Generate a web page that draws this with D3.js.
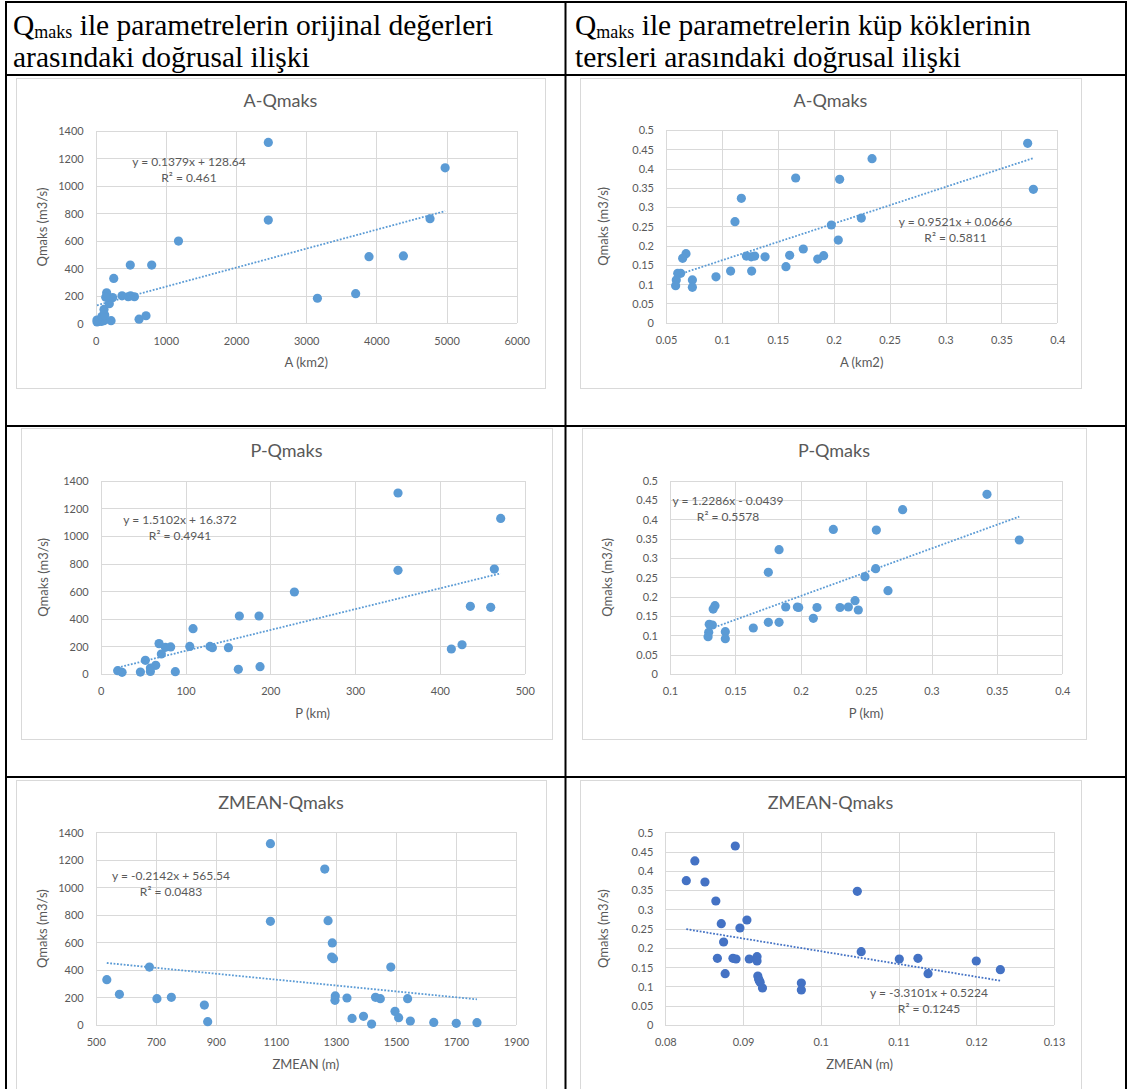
<!DOCTYPE html>
<html>
<head>
<meta charset="utf-8">
<script src="https://cdn.jsdelivr.net/npm/d3@7"></script>
<style>
  html, body { margin: 0; padding: 0; background: #fff; }
  svg { display: block; }
</style>
</head>
<body>
<svg id="page" width="1129" height="1089"></svg>
<script>
// ---------- data ----------
// Original values: catchment area A (km2) vs peak discharge Qmaks (m3/s)
const areaRaw = [19, 78, 219, 116, 18, 618, 717, 88, 129, 118, 194, 3160, 3705, 552, 497, 463, 375, 241, 156, 143, 257, 798, 493, 1180, 3895, 4385, 2460, 2460, 4765, 4980];
const qForArea = [10, 13, 19, 19, 24, 30, 55, 50, 61, 101, 143, 182, 215, 193, 200, 193, 200, 187, 222, 190, 326, 423, 423, 598, 484, 490, 750, 1315, 760, 1130];

// Inverse cube roots: A vs Qmaks
const areaInv = [0.3735, 0.2343, 0.166, 0.2053, 0.3786, 0.1174, 0.1117, 0.2247, 0.1979, 0.2041, 0.1728, 0.0679, 0.0649, 0.1219, 0.1262, 0.1293, 0.1386, 0.1606, 0.1857, 0.191, 0.1573, 0.1078, 0.1266, 0.0947, 0.0631, 0.0605, 0.0736, 0.0736, 0.0592, 0.0586];
const qInvForArea = [0.4654, 0.4256, 0.3754, 0.372, 0.346, 0.3227, 0.2621, 0.2716, 0.2535, 0.2145, 0.1912, 0.179, 0.167, 0.173, 0.171, 0.173, 0.171, 0.1747, 0.165, 0.1739, 0.1453, 0.134, 0.134, 0.119, 0.128, 0.128, 0.111, 0.0917, 0.111, 0.096];

// Original values: perimeter P (km) vs Qmaks
const perimRaw = [350.6, 471.7, 350.6, 464.2, 228.4, 435.9, 459.9, 163.5, 186.7, 108.9, 413.5, 426.1, 68.8, 76.3, 82.5, 71.5, 105, 128.9, 131.7, 150.6, 52.7, 64.9, 58.6, 58.6, 46.8, 20, 25.2, 88, 162.3, 187.9];
const qForPerim = [1311, 1127, 751, 760, 594, 490, 483, 420, 420, 328, 181, 212, 220, 193, 196, 145, 200, 200, 191, 191, 99, 63, 43, 19, 14, 24, 12, 17, 34, 53];

// Inverse cube roots: P vs Qmaks
const perimInv = [0.3424, 0.2779, 0.2249, 0.2578, 0.3671, 0.1834, 0.1752, 0.2573, 0.2491, 0.2667, 0.2415, 0.1344, 0.133, 0.1885, 0.1974, 0.1984, 0.2124, 0.23, 0.2364, 0.244, 0.2096, 0.1752, 0.1834, 0.1637, 0.13, 0.1324, 0.1423, 0.1423, 0.1296, 0.1291];
const qInvForPerim = [0.4647, 0.425, 0.374, 0.3724, 0.3466, 0.3216, 0.263, 0.2724, 0.2517, 0.2155, 0.1897, 0.1767, 0.168, 0.1733, 0.1733, 0.172, 0.172, 0.172, 0.1733, 0.1655, 0.144, 0.1336, 0.1336, 0.119, 0.1284, 0.1267, 0.1095, 0.0914, 0.1078, 0.0966];

// Original values: mean elevation ZMEAN (m) vs Qmaks
const zmeanRaw = [1082, 1263, 1082, 1274, 1288, 1286, 1292, 679, 1483, 537, 579, 704, 752, 862, 873, 1298, 1297, 1337, 1432, 1448, 1539, 1354, 1392, 1419, 1497, 1509, 1548, 1626, 1701, 1770];
const qForZmean = [1317, 1133, 753, 758, 596, 494, 482, 421, 421, 329, 223, 191, 201, 145, 24, 211, 179, 196, 201, 191, 191, 48, 63, 7, 99, 53, 29, 19, 12, 17];

// Inverse cube roots: ZMEAN vs Qmaks
const zmeanInv = [0.089, 0.0838, 0.0827, 0.0851, 0.1047, 0.0865, 0.0872, 0.0905, 0.0896, 0.0875, 0.1052, 0.0867, 0.0887, 0.0891, 0.0908, 0.0918, 0.0918, 0.1101, 0.1125, 0.12, 0.1231, 0.1138, 0.0877, 0.0919, 0.092, 0.0922, 0.0925, 0.0975, 0.0975, 0.0921];
const qInvForZmean = [0.4645, 0.4256, 0.3746, 0.371, 0.3469, 0.3218, 0.263, 0.2725, 0.2517, 0.2154, 0.1903, 0.173, 0.173, 0.1713, 0.1713, 0.1773, 0.166, 0.1713, 0.173, 0.166, 0.1436, 0.1332, 0.1332, 0.1272, 0.1194, 0.1107, 0.096, 0.109, 0.0908, 0.1150];

// Linear trendline coefficients and R² per chart (same order as the panels)
const trendSlope = [0.1379, 0.9521, 1.5102, 1.2286, -0.2142, -3.3101];
const trendIntercept = [128.64, 0.0666, 16.372, -0.0439, 565.54, 0.5224];
const trendR2 = ["0.461", "0.5811", "0.4941", "0.5578", "0.0483", "0.1245"];

// Axis ticks
const ticksArea = [0, 1000, 2000, 3000, 4000, 5000, 6000];
const ticksAreaInv = [0.05, 0.1, 0.15, 0.2, 0.25, 0.3, 0.35, 0.4];
const ticksPerim = [0, 100, 200, 300, 400, 500];
const ticksPerimInv = [0.1, 0.15, 0.2, 0.25, 0.3, 0.35, 0.4];
const ticksZmean = [500, 700, 900, 1100, 1300, 1500, 1700, 1900];
const ticksZmeanInv = [0.08, 0.09, 0.1, 0.11, 0.12, 0.13];
const ticksQ = [0, 200, 400, 600, 800, 1000, 1200, 1400];
const ticksQInv = [0, 0.05, 0.1, 0.15, 0.2, 0.25, 0.3, 0.35, 0.4, 0.45, 0.5];

// Chart titles / axis titles
const chartTitles = ["A-Qmaks", "A-Qmaks", "P-Qmaks", "P-Qmaks", "ZMEAN-Qmaks", "ZMEAN-Qmaks"];
const xTitles = ["A (km2)", "A (km2)", "P (km)", "P (km)", "ZMEAN (m)", "ZMEAN (m)"];
const yTitle = "Qmaks (m3/s)";

// Table header
const headerLeft = ["ile parametrelerin orijinal değerleri", "arasındaki doğrusal ilişki"];
const headerRight = ["ile parametrelerin küp köklerinin", "tersleri arasındaki doğrusal ilişki"];

// ---------- layout ----------
const BLUE = "#5b9bd5";
const DARKBLUE = "#4472c4";
const GRID = "#d9d9d9";
const TEXT = "#595959";
const FONT = "Lato, 'Open Sans', sans-serif";

const panels = [
  { x: areaRaw, y: qForArea, xt: ticksArea, yt: ticksQ, color: BLUE,
    frame: [16, 78, 545, 388], plot: [95.7, 130.7, 516.7, 323.3], yTitleX: 42, eq: [189, 161.7] },
  { x: areaInv, y: qInvForArea, xt: ticksAreaInv, yt: ticksQInv, color: BLUE,
    frame: [580, 78, 1081, 388], plot: [666, 130, 1057.3, 322.7], yTitleX: 603, eq: [955.5, 221.3] },
  { x: perimRaw, y: qForPerim, xt: ticksPerim, yt: ticksQ, color: BLUE,
    frame: [21, 428, 552, 739], plot: [100.7, 480.7, 524.7, 674], yTitleX: 43, eq: [180, 520] },
  { x: perimInv, y: qInvForPerim, xt: ticksPerimInv, yt: ticksQInv, color: BLUE,
    frame: [582, 428, 1086, 739], plot: [670, 480.7, 1062.3, 674], yTitleX: 607, eq: [728, 500.3] },
  { x: zmeanRaw, y: qForZmean, xt: ticksZmean, yt: ticksQ, color: BLUE,
    frame: [16, 780, 546, 1100], plot: [95.7, 832.3, 516, 1025], yTitleX: 42.7, eq: [171, 875.3] },
  { x: zmeanInv, y: qInvForZmean, xt: ticksZmeanInv, yt: ticksQInv, color: DARKBLUE,
    frame: [580, 780, 1081, 1100], plot: [665.3, 832.3, 1054, 1025], yTitleX: 603, eq: [929, 992.7] }
];

const svg = d3.select("#page");
svg.append("rect").attr("width", 1129).attr("height", 1089).attr("fill", "#fff");

const fmt = v => String(v);

panels.forEach((p, i) => {
  const g = svg.append("g").attr("class", "chart");
  const [fx0, fy0, fx1, fy1] = p.frame;
  const [px0, py0, px1, py1] = p.plot;

  // chart area frame
  g.append("rect")
    .attr("x", fx0 + 0.5).attr("y", fy0 + 0.5)
    .attr("width", fx1 - fx0).attr("height", fy1 - fy0)
    .attr("fill", "#fff").attr("stroke", GRID).attr("stroke-width", 1);

  const x = d3.scaleLinear().domain([p.xt[0], p.xt[p.xt.length - 1]]).range([px0, px1]);
  const y = d3.scaleLinear().domain([p.yt[0], p.yt[p.yt.length - 1]]).range([py1, py0]);

  // gridlines
  const gx = g.append("g").attr("transform", `translate(0,${py1})`)
    .call(d3.axisBottom(x).tickValues(p.xt).tickSize(-(py1 - py0)).tickFormat(""));
  const gy = g.append("g").attr("transform", `translate(${px0},0)`)
    .call(d3.axisLeft(y).tickValues(p.yt).tickSize(-(px1 - px0)).tickFormat(""));
  [gx, gy].forEach(a => {
    a.select(".domain").remove();
    a.selectAll("line").attr("stroke", GRID).attr("stroke-width", 1).attr("shape-rendering", "crispEdges");
  });

  // tick labels
  const lx = g.append("g").attr("transform", `translate(0,${py1})`)
    .call(d3.axisBottom(x).tickValues(p.xt).tickSize(0).tickFormat(fmt));
  const ly = g.append("g").attr("transform", `translate(${px0},0)`)
    .call(d3.axisLeft(y).tickValues(p.yt).tickSize(0).tickFormat(fmt));
  [lx, ly].forEach(a => { a.select(".domain").remove(); a.selectAll("line").remove(); });
  lx.selectAll("text").attr("y", 17.5).attr("dy", "0.35em");
  ly.selectAll("text").attr("x", -12).attr("dy", "0.35em");
  g.selectAll(".tick text").attr("fill", TEXT).style("font-family", FONT).style("font-size", "11px");

  // titles
  g.append("text").attr("x", (fx0 + fx1) / 2).attr("y", fy0 + 23).attr("dy", "0.35em")
    .attr("text-anchor", "middle").attr("fill", TEXT)
    .style("font-family", FONT).style("font-size", "18px").text(chartTitles[i]);
  g.append("text").attr("x", (px0 + px1) / 2).attr("y", py1 + 39.5).attr("dy", "0.35em")
    .attr("text-anchor", "middle").attr("fill", TEXT)
    .style("font-family", FONT).style("font-size", "13px").text(xTitles[i]);
  g.append("text")
    .attr("transform", `translate(${p.yTitleX},${(py0 + py1) / 2}) rotate(-90)`)
    .attr("dy", "0.35em").attr("text-anchor", "middle").attr("fill", TEXT)
    .style("font-family", FONT).style("font-size", "13px").text(yTitle);

  // points
  g.append("g").selectAll("circle")
    .data(p.x.map((v, k) => [v, p.y[k]]))
    .join("circle")
    .attr("cx", d => x(d[0])).attr("cy", d => y(d[1])).attr("r", 4.6)
    .attr("fill", p.color);

  // linear trendline over the data's x range
  const m = trendSlope[i], b = trendIntercept[i];
  const [xa, xb] = d3.extent(p.x);
  g.append("line")
    .attr("x1", x(xa)).attr("y1", y(m * xa + b))
    .attr("x2", x(xb)).attr("y2", y(m * xb + b))
    .attr("stroke", p.color).attr("stroke-width", 1.8)
    .attr("stroke-dasharray", "1.8 1.6");

  // equation and R²
  const eqText = `y = ${m}x ${b < 0 ? "-" : "+"} ${Math.abs(b)}`;
  const t = g.append("text").attr("text-anchor", "middle").attr("fill", TEXT)
    .style("font-family", FONT).style("font-size", "12px");
  t.append("tspan").attr("x", p.eq[0]).attr("y", p.eq[1]).attr("dy", "0.35em").text(eqText);
  t.append("tspan").attr("x", p.eq[0]).attr("y", p.eq[1] + 16).attr("dy", "0.35em").text(`R² = ${trendR2[i]}`);
});

// ---------- table header ----------
const SERIF = "'Liberation Serif', 'Times New Roman', serif";
function header(x0, lines) {
  const t1 = svg.append("text").attr("x", x0).attr("y", 35).attr("fill", "#000")
    .style("font-family", SERIF).style("font-size", "29.5px");
  t1.append("tspan").text("Q");
  t1.append("tspan").style("font-size", "18px").attr("dy", 3).text("maks");
  t1.append("tspan").attr("dy", -3).text(" " + lines[0]);
  svg.append("text").attr("x", x0).attr("y", 67).attr("fill", "#000")
    .style("font-family", SERIF).style("font-size", "29.5px").text(lines[1]);
}
header(13, headerLeft);
header(575, headerRight);

// ---------- table borders ----------
const borders = svg.append("g").attr("stroke", "#000").attr("stroke-width", 2);
[2, 75, 426, 777].forEach(yy => borders.append("line").attr("x1", 5).attr("x2", 1127).attr("y1", yy).attr("y2", yy));
[6, 565.5, 1126].forEach(xx => borders.append("line").attr("x1", xx).attr("x2", xx).attr("y1", 1).attr("y2", 1089));
</script>
</body>
</html>
